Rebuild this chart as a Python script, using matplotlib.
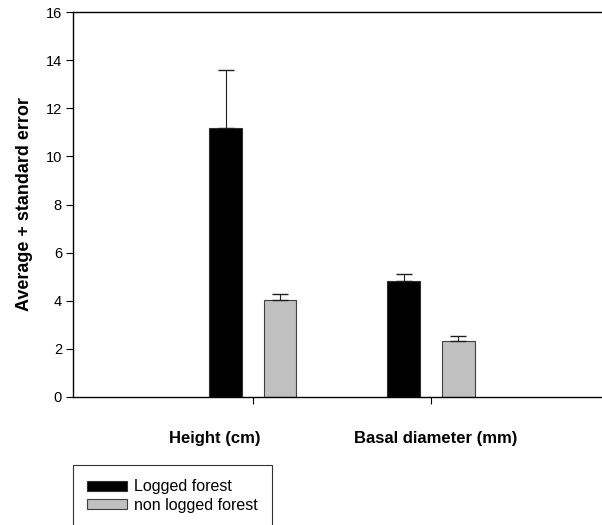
import matplotlib
matplotlib.use("Agg")
import matplotlib.pyplot as plt
import numpy as np

plt.rcParams['font.family'] = ['Liberation Sans', 'DejaVu Sans']

# data
categories = ['Height (cm)', 'Basal diameter (mm)']
series_names = ['Logged forest', 'non logged forest']
logged_mean = [11.19, 4.83]
logged_se = [2.40, 0.29]
nonlogged_mean = [4.02, 2.34]
nonlogged_se = [0.27, 0.21]
y_ticks = [0, 2, 4, 6, 8, 10, 12, 14, 16]

W, H = 602, 525
fig = plt.figure(figsize=(W / 100, H / 100), dpi=100)
# axes runs off the right edge, as in the reference
ax = fig.add_axes([73 / W, (H - 397) / H, (W - 73) / W, 385 / H])

x = np.arange(len(categories))
bw = 0.185
off = 0.152

b1 = ax.bar(x - off, logged_mean, bw, color='black', edgecolor='#303030',
            linewidth=0.8, label=series_names[0], zorder=2)
b2 = ax.bar(x + off, nonlogged_mean, bw, color='#c0c0c0', edgecolor='#404040',
            linewidth=0.8, label=series_names[1], zorder=2)

zeros = [0] * len(categories)
ax.errorbar(x - off, logged_mean, yerr=[zeros, logged_se], fmt='none',
            ecolor='#202020', elinewidth=0.8, capsize=5.5, capthick=1.0, zorder=3)
ax.errorbar(x + off, nonlogged_mean, yerr=[zeros, nonlogged_se], fmt='none',
            ecolor='#202020', elinewidth=0.8, capsize=5.5, capthick=1.0, zorder=3)

ax.set_ylim(0, 16)
ax.set_yticks(y_ticks)
ax.set_xlim(-1.011, 1 + (W - 431) / 178)
ax.set_xticks(x)
ax.set_xticklabels([])
ax.tick_params(axis='both', direction='out', length=5, width=0.8, labelsize=10.5, pad=3)
ax.spines['right'].set_visible(False)
for s in ['left', 'top', 'bottom']:
    ax.spines[s].set_linewidth(1.0)

ax.set_ylabel('Average + standard error', fontsize=13, fontweight='bold', labelpad=9)

fig.text(215 / W, 1 - 438 / H, categories[0], ha='center', va='center',
         fontsize=12, fontweight='bold')
fig.text(436 / W, 1 - 438 / H, categories[1], ha='center', va='center',
         fontsize=12, fontweight='bold')

leg = fig.legend(handles=[b1, b2], loc='upper left',
                 bbox_to_anchor=(73 / W, 1 - 465 / H), bbox_transform=fig.transFigure,
                 fontsize=11.5, frameon=True, fancybox=False, edgecolor='black',
                 handlelength=2.45, handleheight=0.6, handletextpad=0.45,
                 borderpad=0.9, labelspacing=0.2, borderaxespad=0)
leg.get_frame().set_linewidth(0.8)

fig.savefig('out.png', dpi=100)
